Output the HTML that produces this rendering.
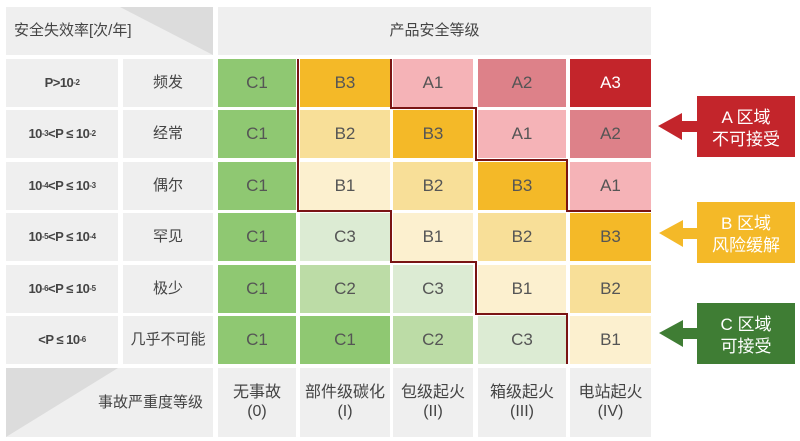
<!DOCTYPE html>
<html><head><meta charset="utf-8"><style>
body{margin:0;width:800px;height:441px;background:#fff;overflow:hidden;position:relative;font-family:"Liberation Sans","Noto Sans CJK SC",sans-serif;}
.c{position:absolute;display:flex;align-items:center;justify-content:center;text-align:center;color:#555;font-size:17px;line-height:1.15;}
.g{background:#efefef;font-size:15px;color:#444;}
.p{font-size:13px;font-weight:bold;color:#444;letter-spacing:-0.5px;}
sup{font-size:8px;}
</style></head><body>
<div class="c g" style="left:6px;top:7px;width:207px;height:48px;"></div>
<svg style="position:absolute;left:0;top:0" width="800" height="441">
<polygon points="120,7 213,7 213,55" fill="#dcdcdc"/>
</svg>
<div class="c g" style="left:6px;top:7px;width:207px;height:48px;justify-content:flex-start;padding-left:8px;box-sizing:border-box;background:transparent;">安全失效率[次/年]</div>
<div class="c g" style="left:218px;top:7px;width:433px;height:48px;">产品安全等级</div>
<div id="grid"></div>
<div class="c g" style="left:6px;top:368px;width:207px;height:69px;"></div>
<svg style="position:absolute;left:0;top:0" width="800" height="441">
<polygon points="6,437 6,368 118,368" fill="#dcdcdc"/>
</svg>
<div class="c g" style="left:6px;top:368px;width:207px;height:69px;justify-content:flex-end;padding-right:10px;box-sizing:border-box;background:transparent;">事故严重度等级</div>
<script>
var cols=[[218,78],[300,90],[393,80],[478,88],[570,81]];
var rows=[59,110,162,213,265,316];
var P=['P&gt;10<sup>-2</sup>','10<sup>-3</sup>&lt;P ≤ 10<sup>-2</sup>','10<sup>-4</sup>&lt;P ≤ 10<sup>-3</sup>','10<sup>-5</sup>&lt;P ≤ 10<sup>-4</sup>','10<sup>-6</sup>&lt;P ≤ 10<sup>-5</sup>','&lt;P ≤ 10<sup>-6</sup>'];
var N=['频发','经常','偶尔','罕见','极少','几乎不可能'];
var D=[['C1','B3','A1','A2','A3'],['C1','B2','B3','A1','A2'],['C1','B1','B2','B3','A1'],['C1','C3','B1','B2','B3'],['C1','C2','C3','B1','B2'],['C1','C1','C2','C3','B1']];
var col={C1:'#8fc872',C2:'#bcdca6',C3:'#dcebd3',B1:'#fcf0cf',B2:'#f8df98',B3:'#f4b928',A1:'#f5b3b7',A2:'#dd8189',A3:'#c3252b'};
var B=['无事故<br>(0)','部件级碳化<br>(I)','包级起火<br>(II)','箱级起火<br>(III)','电站起火<br>(IV)'];
var h='';
for(var r=0;r<6;r++){var y=rows[r];
h+='<div class="c g p" style="left:6px;top:'+y+'px;width:112px;height:48px">'+P[r]+'</div>';
h+='<div class="c g" style="left:123px;top:'+y+'px;width:90px;height:48px">'+N[r]+'</div>';
for(var k=0;k<5;k++){var v=D[r][k];h+='<div class="c" style="left:'+cols[k][0]+'px;top:'+y+'px;width:'+cols[k][1]+'px;height:48px;background:'+col[v]+';'+(v=='A3'?'color:#fff':'')+'">'+v+'</div>';}}
for(var k=0;k<5;k++)h+='<div class="c g" style="left:'+cols[k][0]+'px;top:368px;width:'+cols[k][1]+'px;height:69px;font-size:16px">'+B[k]+'</div>';
document.getElementById('grid').innerHTML=h;
</script>
<svg style="position:absolute;left:0;top:0" width="800" height="441">
<polyline points="391,59 391,108 476,108 476,160 567,160 567,211 651,211" fill="none" stroke="#7a1414" stroke-width="2"/>
<polyline points="298,59 298,211 391,211 391,262 476,262 476,314 567,314 567,364" fill="none" stroke="#7a1414" stroke-width="2"/>
<g fill="#c3252b"><rect x="697" y="96" width="98" height="61"/><polygon points="658,126 682,113 682,121 698,121 698,132 682,132 682,140"/></g>
<g fill="#f4b928"><rect x="697" y="202" width="98" height="61"/><polygon points="659,233 683,220 683,228 698,228 698,239 683,239 683,247"/></g>
<g fill="#3f7d34"><rect x="697" y="303" width="98" height="61"/><polygon points="659,333 683,320 683,328 698,328 698,339 683,339 683,347"/></g>
<g fill="#fff" font-size="17" text-anchor="middle" font-family="Liberation Sans,Noto Sans CJK SC,sans-serif">
<text x="746" y="123">A 区域</text><text x="746" y="145">不可接受</text>
<text x="746" y="229">B 区域</text><text x="746" y="251">风险缓解</text>
<text x="746" y="330">C 区域</text><text x="746" y="352">可接受</text>
</g>
</svg>
</body></html>
